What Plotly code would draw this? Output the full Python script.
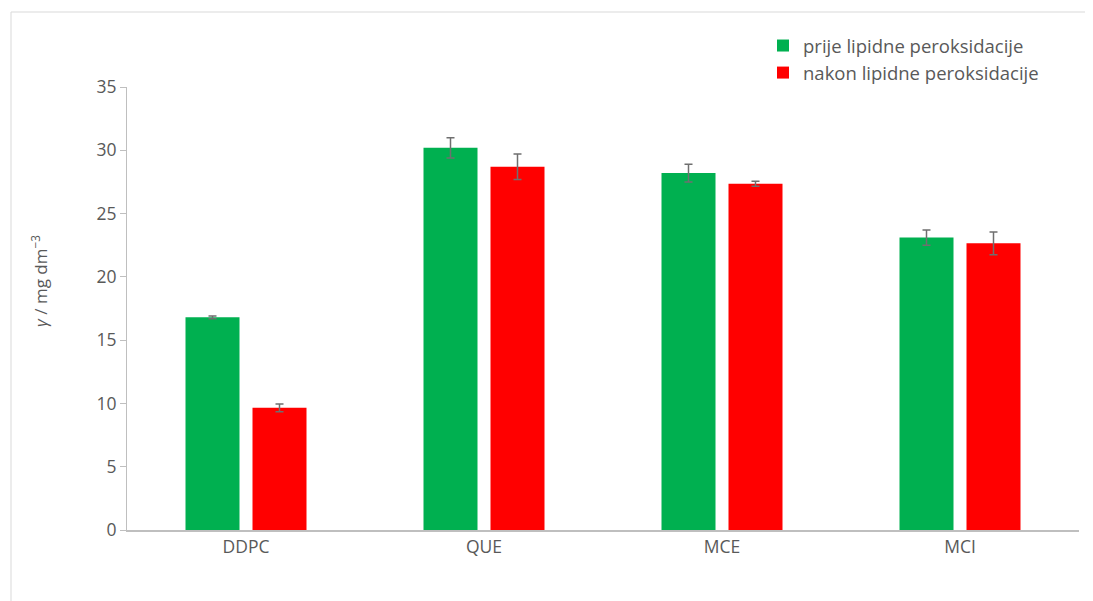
import plotly.graph_objects as go

categories = ["DDPC", "QUE", "MCE", "MCI"]
before_vals = [16.8, 30.2, 28.2, 23.1]
before_err = [0.1, 0.8, 0.7, 0.6]
after_vals = [9.65, 28.7, 27.35, 22.65]
after_err = [0.3, 1.0, 0.2, 0.9]
series_names = ["prije lipidne peroksidacije", "nakon lipidne peroksidacije"]
y_ticks = [0, 5, 10, 15, 20, 25, 30, 35]
y_title = "<i>γ</i> / mg dm<sup>−3</sup>"

font_family = "Open Sans, Liberation Sans, sans-serif"
text_color = "#595959"
err_color = "#6f6f6f"

fig = go.Figure()
fig.add_trace(go.Bar(
    x=categories, y=before_vals, name=series_names[0],
    marker=dict(color="#00b050", line=dict(width=0)),
    error_y=dict(type="data", array=before_err, visible=True,
                 color=err_color, thickness=1.5, width=4),
))
fig.add_trace(go.Bar(
    x=categories, y=after_vals, name=series_names[1],
    marker=dict(color="#ff0000", line=dict(width=0)),
    error_y=dict(type="data", array=after_err, visible=True,
                 color=err_color, thickness=1.5, width=4),
))

# page body has an 8px default margin
OFF = 8
W, H = 1093 - OFF, 601 - OFF
ml, mt = 127 - OFF, 87 - OFF
mr = 14
mb = H - (530 - OFF)
pw = W - ml - mr
ph = H - mt - mb

def px_x(xw):
    return (xw - OFF - ml) / pw

def px_y(yw):
    return ((H - mb) - (yw - OFF)) / ph

fig.update_layout(
    width=W, height=H,
    margin=dict(l=ml, r=mr, t=mt, b=mb),
    paper_bgcolor="white", plot_bgcolor="white",
    barmode="group", bargap=0.437, bargroupgap=0.194,
    font=dict(family=font_family, size=17, color=text_color),
    showlegend=True,
    legend=dict(
        x=px_x(763), y=px_y(27),
        xanchor="left", yanchor="top",
        font=dict(size=18.5, color=text_color),
        bgcolor="rgba(0,0,0,0)",
        itemwidth=30,
    ),
    xaxis=dict(
        showgrid=False, showline=True, linecolor="#bfbfbf", linewidth=1.5,
        ticks="", tickfont=dict(size=17.5, color=text_color),
    ),
    yaxis=dict(
        range=[0, 35], tickvals=y_ticks, showgrid=False, zeroline=False,
        showline=True, linecolor="#bfbfbf", linewidth=1,
        ticks="outside", ticklen=6, tickcolor="#bfbfbf",
        tickfont=dict(size=17.5, color=text_color),
    ),
    annotations=[dict(
        text=y_title, xref="paper", yref="paper",
        x=px_x(39), y=px_y(281), xanchor="center", yanchor="middle",
        textangle=-90, showarrow=False,
        font=dict(size=17, color=text_color),
    )],
    shapes=[dict(
        type="rect", xref="paper", yref="paper",
        x0=px_x(11), x1=px_x(1120),
        y0=px_y(640), y1=px_y(12),
        line=dict(color="#d9d9d9", width=1), fillcolor="rgba(0,0,0,0)", layer="below",
    )],
)

fig.write_html("out.html")
